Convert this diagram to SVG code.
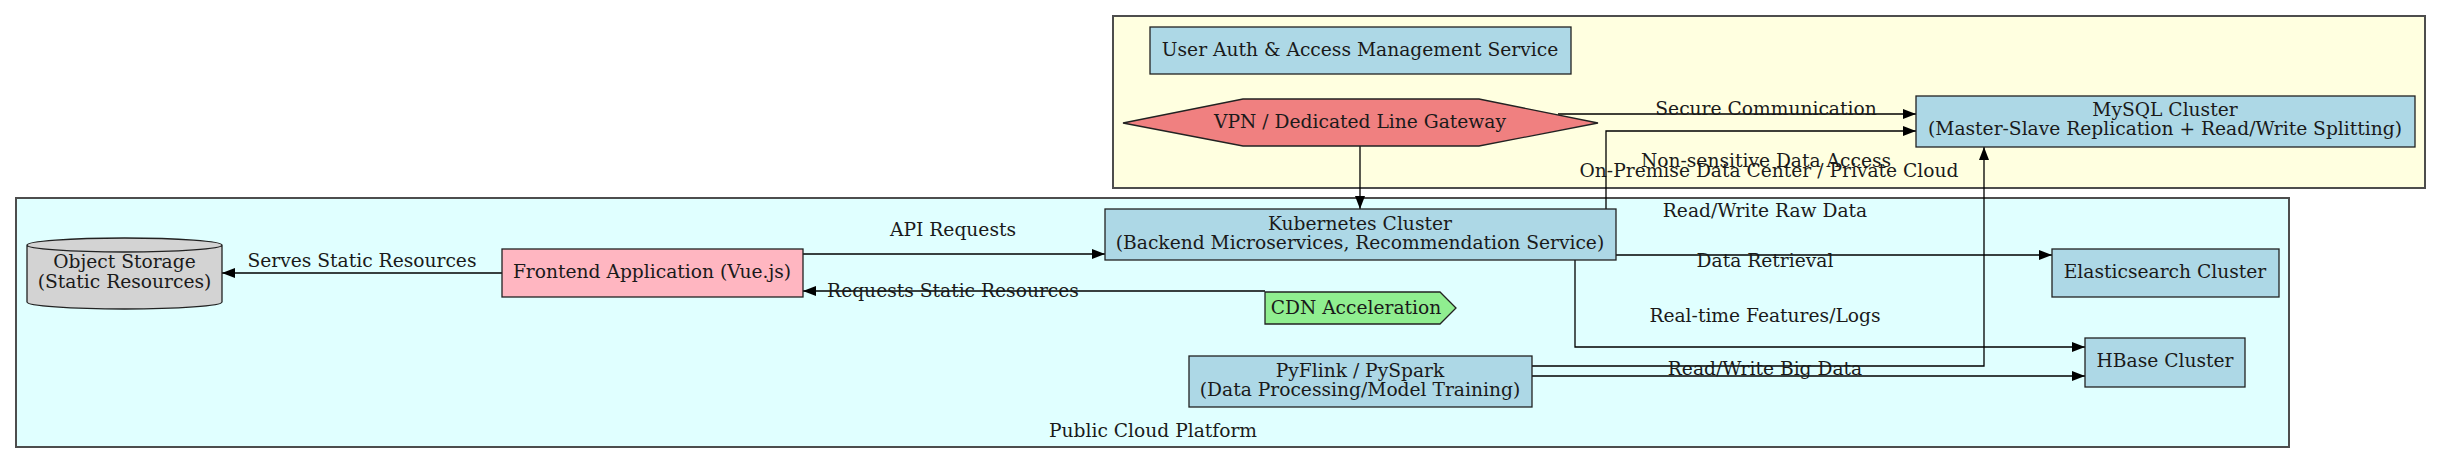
<svg xmlns="http://www.w3.org/2000/svg" width="2441" height="464" viewBox="0 0 2441 464">
<style>
text{font-family:"DejaVu Serif","Liberation Serif",serif;font-size:18.67px;fill:#1a1a1a;text-anchor:middle}
.cl{stroke:#4d4d4d;stroke-width:2}
.n{stroke:#222;stroke-width:1.3}
.e{fill:none;stroke:#000;stroke-width:1.3}
.a{marker-end:url(#ah)}
</style>
<defs>
<marker id="ah" markerUnits="userSpaceOnUse" markerWidth="14" markerHeight="11" refX="13" refY="5.5" orient="auto">
<path d="M0,0.5 L13,5.5 L0,10.5 Z" fill="#000"/>
</marker>
</defs>
<rect width="2441" height="464" fill="#fff"/>
<g id="cluster-onprem">
<rect class="cl" x="1113" y="16" width="1312" height="172" fill="#ffffe0"/>
<text x="1769" y="177">On-Premise Data Center / Private Cloud</text>
</g>
<g id="cluster-public">
<rect class="cl" x="16" y="198" width="2273" height="249" fill="#e0ffff"/>
<text x="1153" y="437">Public Cloud Platform</text>
</g>
<g id="connectors">
<path class="e a" d="M502,273 H222"/>
<path class="e a" d="M803,254 H1105"/>
<path class="e a" d="M1265,291 H803"/>
<path class="e a" d="M1360,146 V209"/>
<path class="e a" d="M1558,114 H1916"/>
<path class="e a" d="M1606,209 V131 H1916"/>
<path class="e a" d="M1616,255 H2052"/>
<path class="e a" d="M1575,260 V347 H2085"/>
<path class="e a" d="M1532,366 H1984 V147"/>
<path class="e a" d="M1532,376 H2085"/>
<text x="362" y="267">Serves Static Resources</text>
<text x="953" y="236">API Requests</text>
<text x="953" y="297">Requests Static Resources</text>
<text x="1766" y="115">Secure Communication</text>
<text x="1766" y="167">Non-sensitive Data Access</text>
<text x="1765" y="217">Read/Write Raw Data</text>
<text x="1765" y="267">Data Retrieval</text>
<text x="1765" y="322">Real-time Features/Logs</text>
<text x="1765" y="375">Read/Write Big Data</text>
</g>
<g id="auth">
<rect class="n" x="1150" y="27" width="421" height="47" fill="#add8e6"/>
<text x="1360" y="55.5">User Auth &amp; Access Management Service</text>
</g>
<g id="vpn">
<polygon class="n" points="1123,123 1243,99 1479,99 1598,123 1479,146 1243,146" fill="#f08080"/>
<text x="1360" y="128">VPN / Dedicated Line Gateway</text>
</g>
<g id="mysql">
<rect class="n" x="1916" y="96" width="499" height="51" fill="#add8e6"/>
<text x="2165" y="116">MySQL Cluster</text>
<text x="2165" y="135">(Master-Slave Replication + Read/Write Splitting)</text>
</g>
<g id="storage">
<path class="n" d="M27,245 V302 A97.5,7 0 0 0 222,302 V245 A97.5,7 0 0 0 27,245 A97.5,7 0 0 0 222,245" fill="#d3d3d3"/>
<text x="124.5" y="268">Object Storage</text>
<text x="124.5" y="288">(Static Resources)</text>
</g>
<g id="frontend">
<rect class="n" x="502" y="249" width="301" height="48" fill="#ffb6c1"/>
<text x="652" y="278">Frontend Application (Vue.js)</text>
</g>
<g id="k8s">
<rect class="n" x="1105" y="209" width="511" height="51" fill="#add8e6"/>
<text x="1360" y="229.5">Kubernetes Cluster</text>
<text x="1360" y="249">(Backend Microservices, Recommendation Service)</text>
</g>
<g id="cdn">
<polygon class="n" points="1265,292 1440,292 1456,308 1440,324 1265,324" fill="#90ee90"/>
<text x="1356" y="314">CDN Acceleration</text>
</g>
<g id="pyflink">
<rect class="n" x="1189" y="356" width="343" height="51" fill="#add8e6"/>
<text x="1360" y="376.5">PyFlink / PySpark</text>
<text x="1360" y="396">(Data Processing/Model Training)</text>
</g>
<g id="es">
<rect class="n" x="2052" y="249" width="227" height="48" fill="#add8e6"/>
<text x="2165" y="278">Elasticsearch Cluster</text>
</g>
<g id="hbase">
<rect class="n" x="2085" y="338" width="160" height="49" fill="#add8e6"/>
<text x="2165" y="367">HBase Cluster</text>
</g>
</svg>
